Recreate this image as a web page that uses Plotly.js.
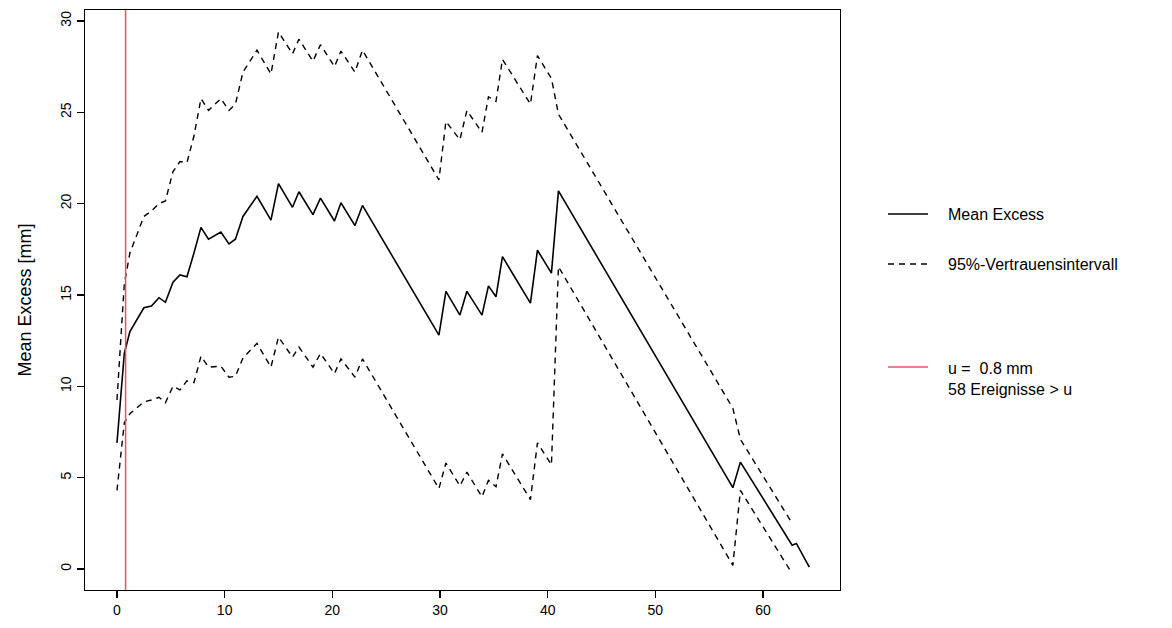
<!DOCTYPE html>
<html>
<head>
<meta charset="utf-8">
<script src="https://cdn.plot.ly/plotly-3.0.1.min.js"></script>
<style>html,body{margin:0;padding:0;background:#fff}#plot{width:1172px;height:628px}</style>
</head>
<body>
<div id="plot"></div>
<script>
// mean excess (solid)
const meanX = [0, 0.68, 1.2, 2.5, 3.2, 3.9, 4.5, 5.2, 5.85, 6.5, 7.15, 7.8, 8.5, 9.65, 10.4, 11, 11.7, 13, 14.3, 15, 16.3, 16.9, 18.2, 18.9, 20.2, 20.8, 22.1, 22.8,
  29.9, 30.55, 31.85, 32.5, 33.9, 34.5, 35.2, 35.8, 38.4, 39.05, 40.35, 41, 57.2, 57.9, 62.7, 63.1, 64.3];
const meanY = [6.9, 11.8, 13, 14.3, 14.4, 14.85, 14.6, 15.7, 16.1, 16.0, 17.3, 18.7, 18.05, 18.45, 17.8, 18.05, 19.3, 20.4, 19.1, 21.1, 19.8, 20.65, 19.4, 20.3, 19.05, 20.05, 18.8, 19.9,
  12.8, 15.2, 13.9, 15.2, 13.9, 15.5, 14.9, 17.1, 14.55, 17.45, 16.2, 20.7, 4.45, 5.85, 1.3, 1.4, 0.1];

// 95% interval, upper and lower (dashed)
const ciX = [0, 0.68, 1.2, 2.5, 3.2, 3.9, 4.5, 5.2, 5.85, 6.5, 7.15, 7.8, 8.5, 9.65, 10.4, 11, 11.7, 13, 14.3, 15, 16.3, 16.9, 18.2, 18.9, 20.2, 20.8, 22.1, 22.8,
  29.9, 30.55, 31.85, 32.5, 33.9, 34.5, 35.2, 35.8, 38.4, 39.05, 40.35, 41, 57.2, 57.9, 62.6];
const upperY = [9.25, 15.6, 17.3, 19.3, 19.6, 20.0, 20.15, 21.75, 22.3, 22.25, 23.7, 25.75, 25.1, 25.75, 25.1, 25.45, 27.2, 28.4, 27.1, 29.4, 28.2, 29.0, 27.8, 28.7, 27.5, 28.35, 27.2, 28.4,
  21.3, 24.5, 23.5, 25.1, 23.9, 25.85, 25.6, 27.9, 25.45, 28.1, 26.85, 24.9, 8.8, 7.1, 2.6];
const lowerY = [4.3, 8.0, 8.5, 9.15, 9.25, 9.4, 9.1, 10.0, 9.8, 10.3, 10.2, 11.65, 11.05, 11.1, 10.5, 10.55, 11.55, 12.35, 11.05, 12.7, 11.6, 12.15, 11.05, 11.8, 10.7, 11.5, 10.5, 11.5,
  4.4, 5.8, 4.55, 5.3, 3.95, 4.85, 4.5, 6.3, 3.8, 6.9, 5.7, 16.55, 0.2, 4.3, -0.15];

const threshold = 0.8;
const nEvents = 58;

const xTicks = [0, 10, 20, 30, 40, 50, 60];
const yTicks = [0, 5, 10, 15, 20, 25, 30];

const FONT = 'Liberation Sans, Arial, sans-serif';
const RED = '#DF536B';

const traces = [
  { x: meanX, y: meanY, mode: 'lines', line: { color: '#000', width: 1.6 } },
  { x: ciX, y: upperY, mode: 'lines', line: { color: '#000', width: 1.4, dash: '6px,5px' } },
  { x: ciX, y: lowerY, mode: 'lines', line: { color: '#000', width: 1.4, dash: '6px,5px' } },
];

// custom legend to the right of the frame (paper coords)
const px = v => (v - 85) / 755;
const py = v => (590 - v) / 580;
const legendItems = [
  { y: 214, dash: 'solid', color: '#000', text: 'Mean Excess' },
  { y: 264, dash: '6px,5px', color: '#000', text: '95%-Vertrauensintervall' },
  { y: 367, dash: 'solid', color: RED, text: 'u =  ' + threshold + ' mm<br>' + nEvents + ' Ereignisse > u', ty: 379 },
];

const shapes = [
  { type: 'line', xref: 'x', yref: 'paper', x0: threshold, x1: threshold, y0: 0, y1: 1,
    line: { color: RED, width: 1.5 } },
];
const annotations = [];
legendItems.forEach(it => {
  shapes.push({ type: 'line', xref: 'paper', yref: 'paper', x0: px(888), x1: px(928), y0: py(it.y), y1: py(it.y),
    line: { color: it.color, width: 1.5, dash: it.dash } });
  annotations.push({ xref: 'paper', yref: 'paper', x: px(946), y: py(it.ty || it.y), xanchor: 'left', yanchor: 'middle',
    align: 'left', showarrow: false, text: it.text, font: { family: FONT, size: 16, color: '#000' } });
});

const axisBase = {
  showline: true, linecolor: '#000', linewidth: 1.2, mirror: true,
  ticks: 'outside', ticklen: 7, tickcolor: '#000', tickwidth: 1.2,
  showgrid: false, zeroline: false,
  tickfont: { family: FONT, size: 14, color: '#000' },
};

const layout = {
  width: 1172, height: 628,
  paper_bgcolor: '#fff', plot_bgcolor: '#fff',
  margin: { l: 85, r: 332, t: 10, b: 38 },
  showlegend: false,
  xaxis: Object.assign({}, axisBase, { range: [-2.97, 67.15], tickvals: xTicks }),
  yaxis: Object.assign({}, axisBase, {
    range: [-1.15, 30.6], tickvals: yTicks, tickangle: -90,
    title: { text: 'Mean Excess [mm]', font: { family: FONT, size: 18, color: '#000' }, standoff: 22 },
  }),
  shapes: shapes,
  annotations: annotations,
};

Plotly.newPlot('plot', traces, layout, { displayModeBar: false, staticPlot: true });
</script>
</body>
</html>
